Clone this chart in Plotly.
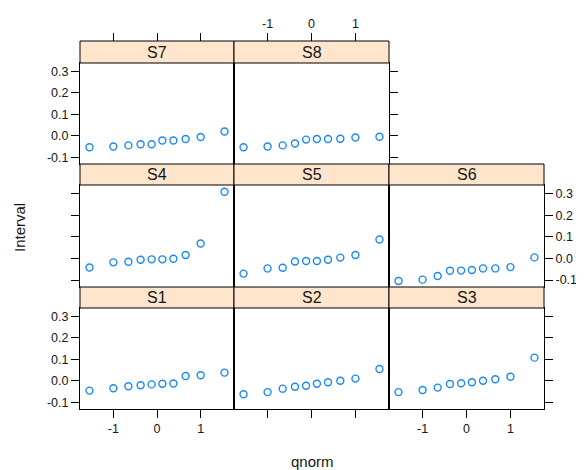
import plotly.graph_objects as go

# ---- data ----
qnorm_x = [-1.547, -1.0, -0.656, -0.376, -0.123, 0.123, 0.376, 0.656, 1.0, 1.547]
panel_names = ["S1", "S2", "S3", "S4", "S5", "S6", "S7", "S8"]
S1 = [-0.046, -0.035, -0.026, -0.021, -0.017, -0.014, -0.013, 0.022, 0.026, 0.038]
S2 = [-0.063, -0.053, -0.037, -0.028, -0.023, -0.014, -0.007, 0.000, 0.010, 0.055]
S3 = [-0.053, -0.043, -0.032, -0.015, -0.012, -0.007, 0.000, 0.007, 0.019, 0.108]
S4 = [-0.042, -0.018, -0.015, -0.006, -0.004, -0.004, -0.001, 0.016, 0.069, 0.309]
S5 = [-0.070, -0.046, -0.043, -0.014, -0.012, -0.012, -0.006, 0.004, 0.016, 0.088]
S6 = [-0.104, -0.098, -0.081, -0.057, -0.056, -0.053, -0.046, -0.046, -0.040, 0.005]
S7 = [-0.054, -0.050, -0.045, -0.040, -0.040, -0.022, -0.022, -0.015, -0.006, 0.020]
S8 = [-0.054, -0.050, -0.045, -0.036, -0.018, -0.015, -0.015, -0.014, -0.008, -0.005]
series = [S1, S2, S3, S4, S5, S6, S7, S8]

x_tick_vals = [-1, 0, 1]
x_tick_text = ["-1", "0", "1"]
y_tick_vals = [-0.1, 0.0, 0.1, 0.2, 0.3]
y_tick_text = ["-0.1", "0.0", "0.1", "0.2", "0.3"]
x_label = "qnorm"
y_label = "Interval"

# ---- layout geometry (pixels in the 584x470 window) ----
OFF = 8                      # page body margin
W, H = 584 - OFF, 470 - OFF
col_px = [(80, 234), (234, 389), (389, 544)]
panel_px = [(308, 409), (185, 287), (63, 164)]   # (top, bottom) per row, row 0 = bottom
strip_px = [(287, 308), (164, 185), (41, 63)]    # (top, bottom)
x_range = [-1.764, 1.764]
y_range = [-0.132, 0.34]

PT_COLOR = "#1a88f0"
STRIP_FILL = "#FFE5CC"
TEXT_COLOR = "#151515"
FONT = "Liberation Sans, Arial, sans-serif"
TICK_FONT = dict(family=FONT, size=12.5, color=TEXT_COLOR)

# x: 'bl' bottom labeled, 'bu' bottom unlabeled, 'tl' top labeled, 'tu' top unlabeled, None
# y: 'll' left labeled, 'lu' left unlabeled, 'rl' right labeled, 'ru' right unlabeled, None
axis_spec = {
    0: ("bl", "ll"), 1: ("bu", None), 2: ("bl", "ru"),
    3: (None, "lu"), 4: (None, None), 5: (None, "rl"),
    6: ("tu", "ll"), 7: ("tl", "ru"),
}


def px_x(p):
    return (p - OFF) / W


def px_y(p):
    return 1 - (p - OFF) / H


fig = go.Figure()
layout = dict(
    width=W, height=H,
    margin=dict(l=0, r=0, t=0, b=0),
    paper_bgcolor="white", plot_bgcolor="white",
    showlegend=False,
    shapes=[], annotations=[],
)

extra = 9
for i, (name, vals) in enumerate(zip(panel_names, series)):
    row, col = i // 3, i % 3
    n = i + 1
    xs, ys = axis_spec[i]
    xa = f"xaxis{n}" if n > 1 else "xaxis"
    ya = f"yaxis{n}" if n > 1 else "yaxis"
    xref = f"x{n}" if n > 1 else "x"
    yref = f"y{n}" if n > 1 else "y"

    fig.add_trace(go.Scatter(
        x=qnorm_x, y=vals, mode="markers", xaxis=xref, yaxis=yref,
        marker=dict(symbol="circle-open", size=7, color=PT_COLOR,
                    line=dict(width=1.4, color=PT_COLOR)),
        hoverinfo="skip",
    ))

    c0, c1 = col_px[col]
    pt, pb = panel_px[row]
    xdict = dict(domain=[px_x(c0), px_x(c1)], anchor=yref, range=x_range,
                 showgrid=False, zeroline=False, showline=True, mirror=True,
                 linecolor="black", linewidth=1,
                 tickvals=x_tick_vals, ticktext=x_tick_text,
                 tickfont=TICK_FONT, ticks="", showticklabels=False)
    if xs in ("bl", "bu"):
        xdict.update(side="bottom", ticks="outside", ticklen=8, tickcolor="black",
                     tickwidth=1, showticklabels=(xs == "bl"))
    ydict = dict(domain=[px_y(pb), px_y(pt)], anchor=xref, range=y_range,
                 showgrid=False, zeroline=False, showline=True, mirror=True,
                 linecolor="black", linewidth=1,
                 tickvals=y_tick_vals, ticktext=y_tick_text,
                 tickfont=TICK_FONT, ticks="", showticklabels=False)
    if ys is not None:
        ydict.update(side="left" if ys[0] == "l" else "right", ticks="outside",
                     ticklen=8, tickcolor="black", tickwidth=1,
                     showticklabels=(ys[1] == "l"))
    layout[xa] = xdict
    layout[ya] = ydict

    # top axis drawn above the strip
    if xs in ("tl", "tu"):
        en = extra
        extra += 1
        layout[f"xaxis{en}"] = dict(
            overlaying=xref, anchor="free", position=px_y(strip_px[row][0]),
            side="top", range=x_range, showgrid=False, zeroline=False,
            showline=False, tickvals=x_tick_vals, ticktext=x_tick_text,
            tickfont=TICK_FONT, ticks="outside", ticklen=8, tickcolor="black",
            tickwidth=1, showticklabels=(xs == "tl"))
        fig.add_trace(go.Scatter(x=[None], y=[None], xaxis=f"x{en}", yaxis=yref,
                                 mode="markers", hoverinfo="skip"))

    # strip
    s0, s1 = strip_px[row]
    layout["shapes"].append(dict(
        type="rect", xref="paper", yref="paper",
        x0=px_x(c0), x1=px_x(c1), y0=px_y(s1), y1=px_y(s0),
        fillcolor=STRIP_FILL, line=dict(color="black", width=1), layer="above"))
    layout["annotations"].append(dict(
        text=name, xref="paper", yref="paper",
        x=px_x((c0 + c1) / 2), y=px_y((s0 + s1) / 2),
        xanchor="center", yanchor="middle", showarrow=False,
        font=dict(family=FONT, size=16, color=TEXT_COLOR)))

layout["annotations"].append(dict(
    text=x_label, xref="paper", yref="paper", x=px_x(312), y=px_y(461),
    xanchor="center", yanchor="middle", showarrow=False,
    font=dict(family=FONT, size=15, color=TEXT_COLOR)))
layout["annotations"].append(dict(
    text=y_label, xref="paper", yref="paper", x=px_x(19), y=px_y(228),
    xanchor="center", yanchor="middle", showarrow=False, textangle=-90,
    font=dict(family=FONT, size=15, color=TEXT_COLOR)))

fig.update_layout(**layout)
fig.write_html("out.html")
